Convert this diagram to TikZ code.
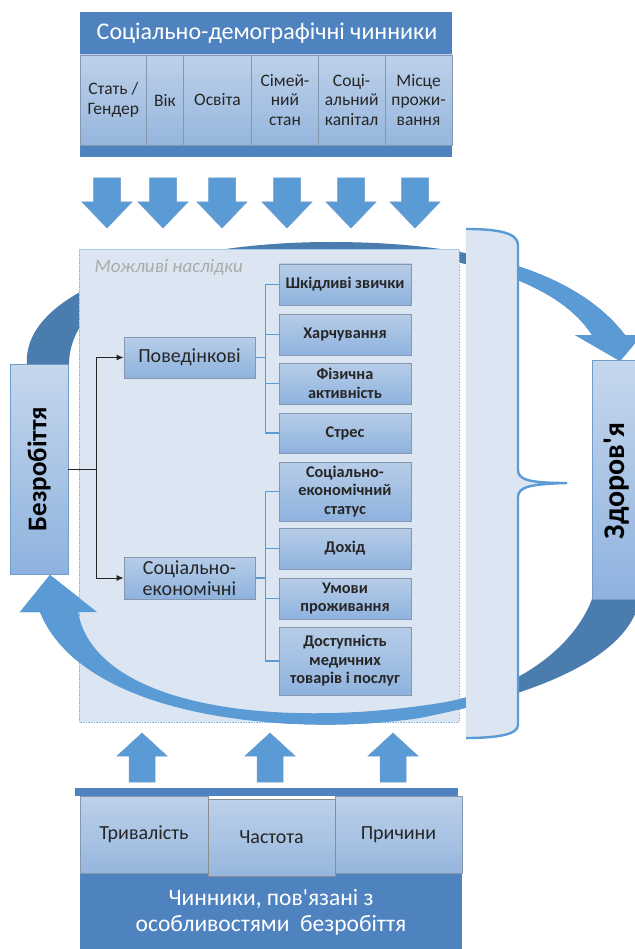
\documentclass[tikz,border=0pt]{standalone}
\usepackage{fontspec}
\setmainfont{Carlito}[Ligatures=TeXOff]
\usetikzlibrary{arrows.meta,shadings,shadows}
\definecolor{hdr}{HTML}{4F83BF}
\definecolor{cellt}{HTML}{BDD1EA}
\definecolor{cellb}{HTML}{96B6DD}
\definecolor{pale}{HTML}{DCE6F2}
\definecolor{arrblue}{HTML}{5B9BD5}
\definecolor{arredge}{HTML}{6A9BCB}
\definecolor{darkring}{HTML}{4A7CAD}
\definecolor{lineblue}{HTML}{5B9BD5}
\definecolor{edgegray}{HTML}{8597AE}
\definecolor{boxt}{HTML}{B7CDE8}
\definecolor{boxb}{HTML}{8EB2DE}
\tikzset{
  cell/.style={draw=edgegray, line width=0.6pt, top color=cellt, bottom color=cellb,
    inner sep=1pt, align=center, text=black!85, font=\fontsize{17.5}{19.5}\selectfont},
  tbox/.style={draw=edgegray, line width=0.7pt, top color=boxt, bottom color=boxb,
    minimum width=132pt, inner sep=1pt, align=center, text=black!85,
    font=\bfseries\fontsize{16.3}{18.5}\selectfont,
    drop shadow={opacity=0.35, shadow xshift=0.8pt, shadow yshift=-0.8pt}},
  mbox/.style={draw=edgegray, line width=0.7pt, top color=boxt, bottom color=boxb,
    minimum width=131pt, inner sep=1pt, align=center, text=black!85,
    font=\fontsize{20}{21.5}\selectfont},
  sidebox/.style={draw=hdr!80, line width=0.8pt, top color=boxt!80, bottom color=boxb,
    inner sep=1pt, text=black},
  tree/.style={draw=lineblue, line width=1.1pt},
  conn/.style={draw=black!85, line width=1pt},
  dnarrow/.pic={\filldraw[fill=arrblue, draw=arredge, line width=0.5pt]
     (-13.5,-25) -- (13.5,-25) -- (13.5,-1) -- (25,-1) -- (0,25) -- (-25,-1) -- (-13.5,-1) -- cycle;},
  uparrow/.pic={\filldraw[fill=arrblue, draw=arredge, line width=0.5pt]
     (-13,24.5) -- (13,24.5) -- (13,-1.5) -- (25,-1.5) -- (0,-24.5) -- (-25,-1.5) -- (-13,-1.5) -- cycle;}
}
\begin{document}
\begin{tikzpicture}[x=1pt,y=-1pt]
\useasboundingbox (0,0) rectangle (634,949);
\fill[white] (0,0) rectangle (634,949);

% ---- top curved arrow (back, dark) ----
\fill[darkring] (27,364) .. controls (22,290) and (170,242) .. (330,242)
  .. controls (470,242) and (575,270) .. (625,335) -- (642,335) -- (620,361) -- (575,335) -- (592,335)
  .. controls (560,285) and (470,251) .. (330,250) .. controls (180,250) and (70,290) .. (69,364) -- cycle;
\begin{scope}
\clip (466,0) rectangle (660,400);
\fill[arrblue] (27,364) .. controls (22,290) and (170,242) .. (330,242)
  .. controls (470,242) and (575,270) .. (625,335) -- (642,335) -- (620,361) -- (575,335) -- (592,335)
  .. controls (560,285) and (470,251) .. (330,250) .. controls (180,250) and (70,290) .. (69,364) -- cycle;
\end{scope}
% ---- bottom curved arrow (dark part) ----
\fill[darkring] (640,599) .. controls (630,650) and (560,690) .. (420,718)
  .. controls (300,736) and (85,722) .. (40,612) -- (20,612) -- (50,575) -- (97,612) -- (78,612)
  .. controls (95,705) and (270,730) .. (440,703) .. controls (520,690) and (575,645) .. (592,599) -- cycle;

% ---- main box ----
\draw[densely dotted, draw=arrblue!70, fill=pale, line width=0.6pt] (79,249) rectangle (459,722);
\node[anchor=west, font=\itshape\fontsize{19}{22}\selectfont, text=black!33] (mozh) at (91,268) {Можливі наслідки};

% ---- bottom curved arrow (front, light) ----
\begin{scope}
\clip (0,560) rectangle (466,760);
\fill[arrblue] (640,599) .. controls (630,650) and (560,690) .. (420,718)
  .. controls (300,736) and (85,722) .. (40,612) -- (20,612) -- (50,575) -- (97,612) -- (78,612)
  .. controls (95,705) and (270,730) .. (440,703) .. controls (520,690) and (575,645) .. (592,599) -- cycle;
\end{scope}

% ---- brace ----
\fill[pale] (466,229) .. controls (495,229) and (518,232) .. (518,245) -- (518,470)
  .. controls (518,480) and (530,483) .. (567,483) .. controls (530,484) and (518,487) .. (518,497)
  -- (518,725) .. controls (518,735) and (495,738) .. (466,738) -- cycle;
\draw[draw=arrblue, line width=2.4pt] (466,229) .. controls (495,229) and (518,232) .. (518,245) -- (518,470)
  .. controls (518,480) and (530,483) .. (567,483) .. controls (530,484) and (518,487) .. (518,497)
  -- (518,725) .. controls (518,735) and (495,738) .. (466,738);

% ---- top block ----
\fill[hdr] (80,12) rectangle (452,157);
\node[text=white, font=\fontsize{24}{28}\selectfont] (hdrtxt) at (267,33) {Соціально-демографічні чинники};
\node[cell, minimum width=66.7pt, minimum height=90pt] (c1) at (113.35,100) {Стать /\\Гендер};
\node[cell, minimum width=36.6pt, minimum height=90pt] (c2) at (165,100) {Вік};
\node[cell, minimum width=68.4pt, minimum height=90pt] (c3) at (217.5,100) {Освіта};
\node[cell, minimum width=66.6pt, minimum height=90pt] (c4) at (285,100) {Сімей-\\ний\\стан};
\node[cell, minimum width=66.7pt, minimum height=90pt] (c5) at (351.65,100) {Соці-\\альний\\капітал};
\node[cell, minimum width=67pt, minimum height=90pt] (c6) at (418.5,100) {Місце\\прожи-\\вання};

\foreach \x in {107,163,222,287,351,415} { \pic at (\x,203) {dnarrow}; }
\foreach \x in {142,270,393} { \pic at (\x,757.5) {uparrow}; }

% ---- side boxes ----
\node[sidebox, minimum width=58pt, minimum height=210pt] (bez) at (39,469) {};
\node[rotate=90, font=\bfseries\fontsize{27}{30}\selectfont] (beztxt) at (bez.center) {Безробіття};
\node[sidebox, minimum width=48pt, minimum height=239pt] (zd) at (616,479.5) {};
\node[rotate=90, font=\bfseries\fontsize{30}{34}\selectfont] (zdtxt) at (617,481) {Здоров'я};

% ---- middle nodes ----
\node[mbox, minimum height=41pt] (pov) at (189.5,357.5) {Поведінкові};
\node[mbox, minimum height=42pt] (sek) at (189.5,578) {Соціально-\\економічні};

\node[tbox, minimum height=41pt] (shk) at (345,284.5) {Шкідливі звички};
\node[tbox, minimum height=41pt] (har) at (345,334.5) {Харчування};
\node[tbox, minimum height=41pt] (fiz) at (345,383.5) {Фізична\\активність};
\node[tbox, minimum height=40pt] (str) at (345,433) {Стрес};
\node[tbox, minimum height=59pt] (ses) at (345,491.5) {Соціально-\\економічний\\статус};
\node[tbox, minimum height=41pt] (doh) at (345,548.5) {Дохід};
\node[tbox, minimum height=41pt] (umo) at (345,598.5) {Умови\\проживання};
\node[tbox, minimum height=68pt] (dos) at (345,661) {Доступність\\медичних\\товарів і послуг};

% tree lines
\draw[tree] (pov.east) -- ++(11,0);
\draw[tree] (shk.west) -- ++(-13,0) |- (str.west);
\draw[tree] (har.west) -- ++(-13,0);
\draw[tree] (fiz.west) -- ++(-13,0);
\draw[tree] (sek.east) -- ++(11,0);
\draw[tree] (ses.west) -- ++(-13,0) |- (dos.west);
\draw[tree] (doh.west) -- ++(-13,0);
\draw[tree] (umo.west) -- ++(-13,0);

% black connectors
\coordinate (j) at (96,469);
\draw[conn] (bez.east) -- (j);
\draw[conn, -{Latex[length=7pt,width=6pt]}] (j) |- (pov.west);
\draw[conn, -{Latex[length=7pt,width=6pt]}] (j) |- (sek.west);

% ---- bottom block ----
\fill[hdr] (75,788) rectangle (458,796);
\fill[hdr] (80,873) rectangle (462,949);
\node[cell, minimum width=128pt, minimum height=77pt, font=\fontsize{20}{22}\selectfont] (tr) at (144,834.5) {Тривалість};
\node[cell, minimum width=127pt, minimum height=77pt, font=\fontsize{20}{22}\selectfont] (pr) at (398.5,834.5) {Причини};
\node[cell, draw=black!45, minimum width=127pt, minimum height=77pt, font=\fontsize{20}{22}\selectfont] (ch) at (271.5,837.5) {Частота};
\node[text=white, align=center, font=\fontsize{23.5}{26}\selectfont] (bottxt) at (271,912) {Чинники, пов'язані з\\особливостями\ \ безробіття};
\end{tikzpicture}
\end{document}
